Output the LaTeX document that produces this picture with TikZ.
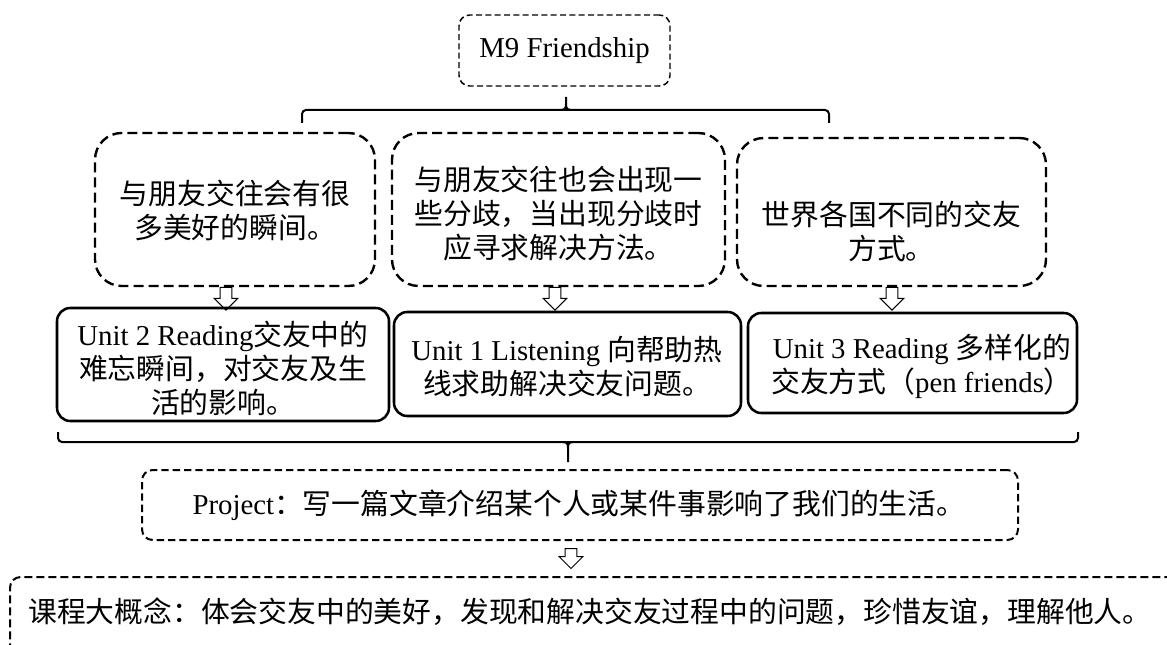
\documentclass[tikz,border=0pt]{standalone}
\usepackage{fontspec}
\setmainfont{Liberation Serif}
\newfontfamily\cjk{Noto Sans CJK SC}
\usetikzlibrary{shapes.arrows,fit}
\newcommand{\zh}[1]{{\cjk #1}}
\tikzset{
  topbox/.style={draw, line width=1.1pt, dash pattern=on 4.5pt off 2.5pt, rounded corners=8pt, inner sep=0pt},
  rowonebox/.style={draw, line width=1.8pt, dash pattern=on 7.5pt off 3.8pt, rounded corners=20pt, inner sep=0pt},
  rowtwobox/.style={draw, line width=1.9pt, rounded corners=10pt, inner sep=0pt},
  projbox/.style={draw, line width=1.5pt, dash pattern=on 5.5pt off 3pt, rounded corners=8pt, inner sep=0pt},
  bigbox/.style={draw, line width=1.5pt, dash pattern=on 6pt off 3pt, rounded corners=8pt, inner sep=0pt},
  txt/.style={font=\fontsize{21.6pt}{25.5pt}\selectfont, align=center, inner sep=0pt},
  txtzh/.style={font=\fontsize{21.6pt}{25.5pt}\selectfont\cjk, align=center, inner sep=0pt},
  hollow/.style={single arrow, draw, line width=0.75pt, shape border rotate=270,
     minimum height=17pt, single arrow head extend=4.5pt, inner sep=4pt, anchor=tail},
  bracepath/.style={line width=1.5pt, rounded corners=3pt}
}
\begin{document}
\begin{tikzpicture}[x=0.75pt,y=-0.75pt]
\useasboundingbox (0,0) rectangle (1167,645);
\clip (0,0) rectangle (1167,645);

% top box
\node[topbox, fit={(459,15)(670,86)}] (top) {};
\node[txt] (toptxt) at (top.center) {M9 Friendship};

% top brace
\coordinate (tbl) at (302,123);
\coordinate (tbr) at (829,123);
\coordinate (tbs) at (566,97);
\draw[bracepath] (tbl) -- (302,110) -- (829,110) -- (tbr);
\draw[line width=1.5pt] (561,110) .. controls (565,110) and (566,108) .. (566,104) -- (tbs);
\draw[line width=1.5pt] (571,110) .. controls (567,110) and (566,108) .. (566,104);

% row one
\node[rowonebox, fit={(95,133)(375,286)}] (b1) {};
\node[rowonebox, fit={(392,133)(725,286)}] (b2) {};
\node[rowonebox, fit={(737,138)(1046,286)}] (b3) {};
\node[txtzh] (b1t) at (235,210) {与朋友交往会有很\\多美好的瞬间。};
\node[txtzh] (b2t) at (558.5,213.5) {与朋友交往也会出现一\\些分歧，当出现分歧时\\应寻求解决方法。};
\node[txtzh] (b3t) at (891.5,231.5) {世界各国不同的交友\\方式。};

% row two
\node[rowtwobox, fit={(57,308)(389,421)}] (c1) {};
\node[rowtwobox, fit={(394,312)(741,416)}] (c2) {};
\node[rowtwobox, fit={(748,313)(1077,413)}] (c3) {};
\node[txt] (c1t) at (223,368) {Unit 2 Reading\zh{交友中的}\\\zh{难忘瞬间，对交友及生}\\\zh{活的影响。}};
\node[txt] (c2t) at (567,367) {Unit 1 Listening \zh{向帮助热}\\\zh{线求助解决交友问题。}};
\node[txt] (c3t) at (922,366) {Unit 3 Reading \zh{多样化的}\\\zh{交友方式（}pen friends\zh{）}};

% hollow arrows
\node[hollow] (a1) at (226,287) {};
\node[hollow] (a2) at (555,287) {};
\node[hollow] (a3) at (892,287) {};

% bottom brace
\coordinate (bbl) at (58,432);
\coordinate (bbr) at (1078,432);
\coordinate (bbs) at (568,462);
\draw[bracepath] (bbl) -- (58,442) -- (1078,442) -- (bbr);
\draw[line width=1.5pt] (563,442) .. controls (567,442) and (568,444) .. (568,448) -- (bbs);
\draw[line width=1.5pt] (573,442) .. controls (569,442) and (568,444) .. (568,448);

% project
\node[projbox, fit={(142,470)(1018,540)}] (proj) {};
\node[txt] (projt) at (579,505) {Project\zh{：写一篇文章介绍某个人或某件事影响了我们的生活。}};

\node[hollow, minimum height=15pt] (a4) at (571,548) {};

% big concept
\node[bigbox, fit={(10,577)(1195,665)}] (big) {};
\node[txtzh, anchor=west] (bigt) at (28,612) {课程大概念：体会交友中的美好，发现和解决交友过程中的问题，珍惜友谊，理解他人。};
\end{tikzpicture}
\end{document}
